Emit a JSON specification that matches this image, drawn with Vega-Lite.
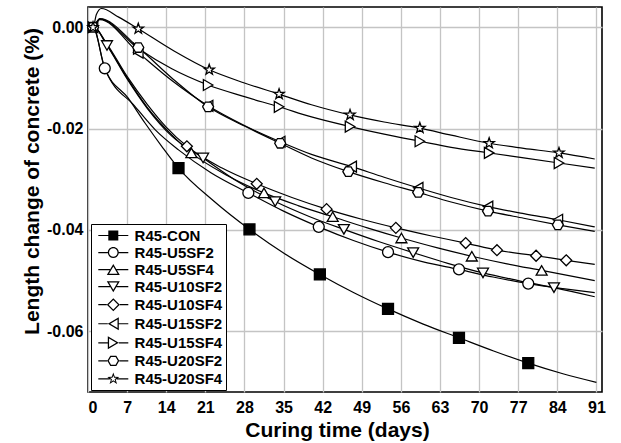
{
  "$schema": "https://vega.github.io/schema/vega-lite/v6.json",
  "width": 514,
  "height": 385,
  "autosize": "none",
  "padding": {"left": 88, "top": 7, "right": 19, "bottom": 51},
  "background": "white",
  "config": {
    "font": "Liberation Sans",
    "view": {"stroke": "black", "strokeWidth": 1.6}
  },
  "datasets": {
    "curves": [
      {"s":"R45-CON","d":0,"v":0},{"s":"R45-CON","d":0.9,"v":0},{"s":"R45-CON","d":3.0,"v":-0.0081},{"s":"R45-CON","d":7.2,"v":-0.0140},{"s":"R45-CON","d":10.2,"v":-0.0189},{"s":"R45-CON","d":13.2,"v":-0.0235},{"s":"R45-CON","d":16.2,"v":-0.0278},{"s":"R45-CON","d":22.5,"v":-0.0343},{"s":"R45-CON","d":28.9,"v":-0.0399},{"s":"R45-CON","d":35.2,"v":-0.0447},{"s":"R45-CON","d":41.5,"v":-0.0488},{"s":"R45-CON","d":47.6,"v":-0.0524},{"s":"R45-CON","d":53.7,"v":-0.0556},{"s":"R45-CON","d":60,"v":-0.0586},{"s":"R45-CON","d":66.4,"v":-0.0613},{"s":"R45-CON","d":72.6,"v":-0.0639},{"s":"R45-CON","d":78.8,"v":-0.0663},{"s":"R45-CON","d":85,"v":-0.0684},{"s":"R45-CON","d":91,"v":-0.0701},
      {"s":"R45-U5SF2","d":0,"v":0},{"s":"R45-U5SF2","d":0.9,"v":0},{"s":"R45-U5SF2","d":3.0,"v":-0.0081},{"s":"R45-U5SF2","d":8.4,"v":-0.0156},{"s":"R45-U5SF2","d":12,"v":-0.0202},{"s":"R45-U5SF2","d":16.2,"v":-0.0242},{"s":"R45-U5SF2","d":22,"v":-0.0287},{"s":"R45-U5SF2","d":28.7,"v":-0.0327},{"s":"R45-U5SF2","d":35,"v":-0.0363},{"s":"R45-U5SF2","d":41.3,"v":-0.0394},{"s":"R45-U5SF2","d":47.5,"v":-0.0421},{"s":"R45-U5SF2","d":53.7,"v":-0.0444},{"s":"R45-U5SF2","d":60,"v":-0.0463},{"s":"R45-U5SF2","d":66.4,"v":-0.0478},{"s":"R45-U5SF2","d":72.5,"v":-0.0493},{"s":"R45-U5SF2","d":78.8,"v":-0.0506},{"s":"R45-U5SF2","d":85,"v":-0.0516},{"s":"R45-U5SF2","d":90.7,"v":-0.0524},
      {"s":"R45-U5SF4","d":0,"v":0},{"s":"R45-U5SF4","d":0.9,"v":0.0002},{"s":"R45-U5SF4","d":3.4,"v":-0.0035},{"s":"R45-U5SF4","d":7,"v":-0.0100},{"s":"R45-U5SF4","d":10.6,"v":-0.0158},{"s":"R45-U5SF4","d":14.5,"v":-0.0207},{"s":"R45-U5SF4","d":18.5,"v":-0.0248},{"s":"R45-U5SF4","d":25,"v":-0.0293},{"s":"R45-U5SF4","d":31.5,"v":-0.0327},{"s":"R45-U5SF4","d":37.6,"v":-0.0352},{"s":"R45-U5SF4","d":43.8,"v":-0.0374},{"s":"R45-U5SF4","d":50,"v":-0.0396},{"s":"R45-U5SF4","d":56.1,"v":-0.0416},{"s":"R45-U5SF4","d":62.4,"v":-0.0435},{"s":"R45-U5SF4","d":68.7,"v":-0.0452},{"s":"R45-U5SF4","d":75,"v":-0.0467},{"s":"R45-U5SF4","d":81.2,"v":-0.0480},{"s":"R45-U5SF4","d":90.7,"v":-0.0500},
      {"s":"R45-U10SF2","d":0,"v":0},{"s":"R45-U10SF2","d":0.9,"v":0.0002},{"s":"R45-U10SF2","d":3.4,"v":-0.0036},{"s":"R45-U10SF2","d":7,"v":-0.0102},{"s":"R45-U10SF2","d":10.6,"v":-0.0160},{"s":"R45-U10SF2","d":15,"v":-0.0215},{"s":"R45-U10SF2","d":20.6,"v":-0.0258},{"s":"R45-U10SF2","d":27,"v":-0.0306},{"s":"R45-U10SF2","d":33.5,"v":-0.0344},{"s":"R45-U10SF2","d":39.7,"v":-0.0374},{"s":"R45-U10SF2","d":45.8,"v":-0.0399},{"s":"R45-U10SF2","d":52,"v":-0.0423},{"s":"R45-U10SF2","d":58.2,"v":-0.0445},{"s":"R45-U10SF2","d":64.4,"v":-0.0466},{"s":"R45-U10SF2","d":70.7,"v":-0.0485},{"s":"R45-U10SF2","d":77,"v":-0.0500},{"s":"R45-U10SF2","d":83.4,"v":-0.0514},{"s":"R45-U10SF2","d":90.7,"v":-0.0532},
      {"s":"R45-U10SF4","d":0,"v":0},{"s":"R45-U10SF4","d":0.9,"v":0.0002},{"s":"R45-U10SF4","d":3.4,"v":-0.0033},{"s":"R45-U10SF4","d":7,"v":-0.0097},{"s":"R45-U10SF4","d":10.6,"v":-0.0152},{"s":"R45-U10SF4","d":14,"v":-0.0197},{"s":"R45-U10SF4","d":17.7,"v":-0.0235},{"s":"R45-U10SF4","d":24,"v":-0.0278},{"s":"R45-U10SF4","d":30.2,"v":-0.0309},{"s":"R45-U10SF4","d":36.5,"v":-0.0336},{"s":"R45-U10SF4","d":42.7,"v":-0.0359},{"s":"R45-U10SF4","d":49,"v":-0.0379},{"s":"R45-U10SF4","d":55.1,"v":-0.0396},{"s":"R45-U10SF4","d":61.5,"v":-0.0412},{"s":"R45-U10SF4","d":67.6,"v":-0.0426},{"s":"R45-U10SF4","d":73.2,"v":-0.0440},{"s":"R45-U10SF4","d":80.2,"v":-0.0451},{"s":"R45-U10SF4","d":85.6,"v":-0.0460},{"s":"R45-U10SF4","d":90.7,"v":-0.0468},
      {"s":"R45-U15SF2","d":0,"v":0},{"s":"R45-U15SF2","d":0.9,"v":0},{"s":"R45-U15SF2","d":2.1,"v":0.0015},{"s":"R45-U15SF2","d":9.0,"v":-0.0050},{"s":"R45-U15SF2","d":15,"v":-0.0105},{"s":"R45-U15SF2","d":21.5,"v":-0.0155},{"s":"R45-U15SF2","d":28,"v":-0.0194},{"s":"R45-U15SF2","d":34.4,"v":-0.0226},{"s":"R45-U15SF2","d":40,"v":-0.0251},{"s":"R45-U15SF2","d":47.2,"v":-0.0275},{"s":"R45-U15SF2","d":53,"v":-0.0296},{"s":"R45-U15SF2","d":59.1,"v":-0.0317},{"s":"R45-U15SF2","d":65,"v":-0.0336},{"s":"R45-U15SF2","d":71.6,"v":-0.0354},{"s":"R45-U15SF2","d":78,"v":-0.0368},{"s":"R45-U15SF2","d":84.1,"v":-0.0380},{"s":"R45-U15SF2","d":90.7,"v":-0.0394},
      {"s":"R45-U15SF4","d":0,"v":0},{"s":"R45-U15SF4","d":0.9,"v":0.0002},{"s":"R45-U15SF4","d":2.1,"v":0.0016},{"s":"R45-U15SF4","d":9.0,"v":-0.0042},{"s":"R45-U15SF4","d":15,"v":-0.0082},{"s":"R45-U15SF4","d":21.5,"v":-0.0114},{"s":"R45-U15SF4","d":28,"v":-0.0137},{"s":"R45-U15SF4","d":34.2,"v":-0.0157},{"s":"R45-U15SF4","d":40,"v":-0.0177},{"s":"R45-U15SF4","d":46.9,"v":-0.0196},{"s":"R45-U15SF4","d":53,"v":-0.0211},{"s":"R45-U15SF4","d":59.4,"v":-0.0225},{"s":"R45-U15SF4","d":65,"v":-0.0237},{"s":"R45-U15SF4","d":71.8,"v":-0.0248},{"s":"R45-U15SF4","d":78,"v":-0.0258},{"s":"R45-U15SF4","d":84.3,"v":-0.0268},{"s":"R45-U15SF4","d":90.7,"v":-0.0278},
      {"s":"R45-U20SF2","d":0,"v":0},{"s":"R45-U20SF2","d":0.9,"v":0},{"s":"R45-U20SF2","d":2.1,"v":0.0017},{"s":"R45-U20SF2","d":9.0,"v":-0.0040},{"s":"R45-U20SF2","d":15,"v":-0.0100},{"s":"R45-U20SF2","d":21.5,"v":-0.0157},{"s":"R45-U20SF2","d":28,"v":-0.0195},{"s":"R45-U20SF2","d":34.4,"v":-0.0229},{"s":"R45-U20SF2","d":40,"v":-0.0258},{"s":"R45-U20SF2","d":46.6,"v":-0.0285},{"s":"R45-U20SF2","d":53,"v":-0.0307},{"s":"R45-U20SF2","d":59.1,"v":-0.0326},{"s":"R45-U20SF2","d":65,"v":-0.0345},{"s":"R45-U20SF2","d":71.6,"v":-0.0363},{"s":"R45-U20SF2","d":78,"v":-0.0377},{"s":"R45-U20SF2","d":84.1,"v":-0.0390},{"s":"R45-U20SF2","d":90.7,"v":-0.0403},
      {"s":"R45-U20SF4","d":0,"v":0},{"s":"R45-U20SF4","d":0.9,"v":0},{"s":"R45-U20SF4","d":1.5,"v":0.0025},{"s":"R45-U20SF4","d":2.4,"v":0.0037},{"s":"R45-U20SF4","d":5.5,"v":0.0020},{"s":"R45-U20SF4","d":9.0,"v":-0.0003},{"s":"R45-U20SF4","d":15.4,"v":-0.0047},{"s":"R45-U20SF4","d":21.7,"v":-0.0084},{"s":"R45-U20SF4","d":28,"v":-0.0110},{"s":"R45-U20SF4","d":34.2,"v":-0.0132},{"s":"R45-U20SF4","d":40,"v":-0.0153},{"s":"R45-U20SF4","d":46.9,"v":-0.0173},{"s":"R45-U20SF4","d":53,"v":-0.0187},{"s":"R45-U20SF4","d":59.4,"v":-0.0199},{"s":"R45-U20SF4","d":65,"v":-0.0213},{"s":"R45-U20SF4","d":71.8,"v":-0.0229},{"s":"R45-U20SF4","d":78,"v":-0.0239},{"s":"R45-U20SF4","d":84.3,"v":-0.0248},{"s":"R45-U20SF4","d":90.7,"v":-0.0260}
    ],
    "markers": [
      {"s":"R45-CON","d":16.2,"v":-0.0278},{"s":"R45-CON","d":28.9,"v":-0.0399},{"s":"R45-CON","d":41.5,"v":-0.0488},{"s":"R45-CON","d":53.7,"v":-0.0556},{"s":"R45-CON","d":66.4,"v":-0.0613},{"s":"R45-CON","d":78.8,"v":-0.0663},
      {"s":"R45-U5SF2","d":3.0,"v":-0.0081},{"s":"R45-U5SF2","d":28.7,"v":-0.0327},{"s":"R45-U5SF2","d":41.3,"v":-0.0394},{"s":"R45-U5SF2","d":53.7,"v":-0.0444},{"s":"R45-U5SF2","d":66.4,"v":-0.0478},{"s":"R45-U5SF2","d":78.8,"v":-0.0506},
      {"s":"R45-U5SF4","d":18.5,"v":-0.0248},{"s":"R45-U5SF4","d":31.5,"v":-0.0327},{"s":"R45-U5SF4","d":43.8,"v":-0.0374},{"s":"R45-U5SF4","d":56.1,"v":-0.0416},{"s":"R45-U5SF4","d":68.7,"v":-0.0452},{"s":"R45-U5SF4","d":81.2,"v":-0.0480},
      {"s":"R45-U10SF2","d":3.4,"v":-0.0036},{"s":"R45-U10SF2","d":20.6,"v":-0.0258},{"s":"R45-U10SF2","d":33.5,"v":-0.0344},{"s":"R45-U10SF2","d":45.8,"v":-0.0399},{"s":"R45-U10SF2","d":58.2,"v":-0.0445},{"s":"R45-U10SF2","d":70.7,"v":-0.0485},{"s":"R45-U10SF2","d":83.4,"v":-0.0514},
      {"s":"R45-U10SF4","d":17.7,"v":-0.0235},{"s":"R45-U10SF4","d":30.2,"v":-0.0309},{"s":"R45-U10SF4","d":42.7,"v":-0.0359},{"s":"R45-U10SF4","d":55.1,"v":-0.0396},{"s":"R45-U10SF4","d":67.6,"v":-0.0426},{"s":"R45-U10SF4","d":73.2,"v":-0.0440},{"s":"R45-U10SF4","d":80.2,"v":-0.0451},{"s":"R45-U10SF4","d":85.6,"v":-0.0460},
      {"s":"R45-U15SF2","d":0.9,"v":0},{"s":"R45-U15SF2","d":9.0,"v":-0.0050},{"s":"R45-U15SF2","d":21.5,"v":-0.0155},{"s":"R45-U15SF2","d":34.4,"v":-0.0226},{"s":"R45-U15SF2","d":47.2,"v":-0.0275},{"s":"R45-U15SF2","d":59.1,"v":-0.0317},{"s":"R45-U15SF2","d":71.6,"v":-0.0354},{"s":"R45-U15SF2","d":84.1,"v":-0.0380},
      {"s":"R45-U15SF4","d":0.9,"v":0},{"s":"R45-U15SF4","d":9.0,"v":-0.0042},{"s":"R45-U15SF4","d":21.5,"v":-0.0114},{"s":"R45-U15SF4","d":34.2,"v":-0.0157},{"s":"R45-U15SF4","d":46.9,"v":-0.0196},{"s":"R45-U15SF4","d":59.4,"v":-0.0225},{"s":"R45-U15SF4","d":71.8,"v":-0.0248},{"s":"R45-U15SF4","d":84.3,"v":-0.0268},
      {"s":"R45-U20SF2","d":0.9,"v":0},{"s":"R45-U20SF2","d":9.0,"v":-0.0040},{"s":"R45-U20SF2","d":21.5,"v":-0.0157},{"s":"R45-U20SF2","d":34.4,"v":-0.0229},{"s":"R45-U20SF2","d":46.6,"v":-0.0285},{"s":"R45-U20SF2","d":59.1,"v":-0.0326},{"s":"R45-U20SF2","d":71.6,"v":-0.0363},{"s":"R45-U20SF2","d":84.1,"v":-0.0390},
      {"s":"R45-U20SF4","d":0.9,"v":0},{"s":"R45-U20SF4","d":9.0,"v":-0.0003},{"s":"R45-U20SF4","d":21.7,"v":-0.0084},{"s":"R45-U20SF4","d":34.2,"v":-0.0132},{"s":"R45-U20SF4","d":46.9,"v":-0.0173},{"s":"R45-U20SF4","d":59.4,"v":-0.0199},{"s":"R45-U20SF4","d":71.8,"v":-0.0229},{"s":"R45-U20SF4","d":84.3,"v":-0.0248}
    ]
  },
  "encoding": {
    "x": {
      "field": "d", "type": "quantitative",
      "scale": {"domain": [0, 92], "nice": false, "zero": false},
      "axis": {
        "values": [0, 7, 14, 21, 28, 35, 42, 49, 56, 63, 70, 77, 84, 91],
        "title": "Curing time (days)",
        "grid": true, "gridColor": "#c4c4c4", "gridWidth": 1.3,
        "ticks": false, "domain": false,
        "labelFont": "Liberation Sans", "labelFontSize": 16, "labelFontWeight": "bold", "labelColor": "black",
        "labelPadding": 7,
        "titleFont": "Liberation Sans", "titleFontSize": 21, "titleFontWeight": "bold", "titleColor": "black",
        "titlePadding": 4, "titleX": 249
      }
    },
    "y": {
      "field": "v", "type": "quantitative",
      "scale": {"domain": [-0.072, 0.004], "nice": false, "zero": false},
      "axis": {
        "values": [0, -0.02, -0.04, -0.06],
        "labelExpr": "datum.value < 0 ? '-' + format(-datum.value, '.2f') : format(datum.value, '.2f')",
        "title": "Length change of concrete (%)",
        "grid": true, "gridColor": "#c4c4c4", "gridWidth": 1.3,
        "ticks": false, "domain": false,
        "labelFont": "Liberation Sans", "labelFontSize": 16, "labelFontWeight": "bold", "labelColor": "black",
        "labelPadding": 5,
        "titleFont": "Liberation Sans", "titleFontSize": 21, "titleFontWeight": "bold", "titleColor": "black",
        "titlePadding": 4, "titleY": 174
      }
    }
  },
  "layer": [
    {"data": {"name": "curves"}, "transform": [{"filter": "datum.s === 'R45-CON'"}], "mark": {"type": "line", "stroke": "black", "strokeWidth": 1.2, "interpolate": "monotone"}, "encoding": {}},
    {"data": {"name": "curves"}, "transform": [{"filter": "datum.s === 'R45-U5SF2'"}], "mark": {"type": "line", "stroke": "black", "strokeWidth": 1.2, "interpolate": "monotone"}, "encoding": {}},
    {"data": {"name": "curves"}, "transform": [{"filter": "datum.s === 'R45-U5SF4'"}], "mark": {"type": "line", "stroke": "black", "strokeWidth": 1.2, "interpolate": "monotone"}, "encoding": {}},
    {"data": {"name": "curves"}, "transform": [{"filter": "datum.s === 'R45-U10SF2'"}], "mark": {"type": "line", "stroke": "black", "strokeWidth": 1.2, "interpolate": "monotone"}, "encoding": {}},
    {"data": {"name": "curves"}, "transform": [{"filter": "datum.s === 'R45-U10SF4'"}], "mark": {"type": "line", "stroke": "black", "strokeWidth": 1.2, "interpolate": "monotone"}, "encoding": {}},
    {"data": {"name": "curves"}, "transform": [{"filter": "datum.s === 'R45-U15SF2'"}], "mark": {"type": "line", "stroke": "black", "strokeWidth": 1.2, "interpolate": "monotone"}, "encoding": {}},
    {"data": {"name": "curves"}, "transform": [{"filter": "datum.s === 'R45-U15SF4'"}], "mark": {"type": "line", "stroke": "black", "strokeWidth": 1.2, "interpolate": "monotone"}, "encoding": {}},
    {"data": {"name": "curves"}, "transform": [{"filter": "datum.s === 'R45-U20SF2'"}], "mark": {"type": "line", "stroke": "black", "strokeWidth": 1.2, "interpolate": "monotone"}, "encoding": {}},
    {"data": {"name": "curves"}, "transform": [{"filter": "datum.s === 'R45-U20SF4'"}], "mark": {"type": "line", "stroke": "black", "strokeWidth": 1.2, "interpolate": "monotone"}, "encoding": {}},
    {
      "data": {"name": "markers"},
      "mark": {"type": "point", "filled": true, "stroke": "black", "strokeWidth": 1.3, "size": 120, "opacity": 1},
      "encoding": {
        "fill": {
          "field": "s", "type": "nominal",
          "scale": {
            "domain": ["R45-CON","R45-U5SF2","R45-U5SF4","R45-U10SF2","R45-U10SF4","R45-U15SF2","R45-U15SF4","R45-U20SF2","R45-U20SF4"],
            "range": ["black","white","white","white","white","white","white","white","white"]
          },
          "legend": null
        },
        "shape": {
          "field": "s", "type": "nominal",
          "scale": {
            "domain": ["R45-CON","R45-U5SF2","R45-U5SF4","R45-U10SF2","R45-U10SF4","R45-U15SF2","R45-U15SF4","R45-U20SF2","R45-U20SF4"],
            "range": ["square","circle","triangle-up","triangle-down","diamond","triangle-left","triangle-right","M-1,0L-0.5,-0.866L0.5,-0.866L1,0L0.5,0.866L-0.5,0.866Z","M0,-1L0.235,-0.324L0.951,-0.309L0.38,0.124L0.588,0.809L0,0.4L-0.588,0.809L-0.38,0.124L-0.951,-0.309L-0.235,-0.324Z"]
          },
          "legend": null
        }
      }
    },
    {
      "data": {"name": "markers"},
      "transform": [{"filter": "false"}],
      "mark": {"type": "point", "filled": true, "fill": "black", "opacity": 1},
      "encoding": {
        "shape": {
          "field": "s", "type": "nominal",
          "scale": {
            "domain": ["R45-CON","R45-U5SF2","R45-U5SF4","R45-U10SF2","R45-U10SF4","R45-U15SF2","R45-U15SF4","R45-U20SF2","R45-U20SF4"],
            "range": [
              "M-2,-0.08H-0.667V0.08H-2ZM0.667,-0.08H2V0.08H0.667ZM-0.667,-0.667H0.667V0.667H-0.667Z",
              "M-2,-0.08H-0.733V0.08H-2ZM0.733,-0.08H2V0.08H0.733ZM-0.733,0A0.733,0.733,0,1,1,0.733,0A0.733,0.733,0,1,1,-0.733,0ZM-0.563,0A0.563,0.563,0,1,0,0.563,0A0.563,0.563,0,1,0,-0.563,0Z",
              "M-2,-0.08H-0.433V0.08H-2ZM0.433,-0.08H2V0.08H0.433ZM0,-0.733L0.867,0.733L-0.867,0.733ZM0,-0.399L-0.569,0.563L0.569,0.563Z",
              "M-2,-0.08H-0.433V0.08H-2ZM0.433,-0.08H2V0.08H0.433ZM0,0.733L-0.867,-0.733L0.867,-0.733ZM0,0.399L0.569,-0.563L-0.569,-0.563Z",
              "M-2,-0.08H-0.867V0.08H-2ZM0.867,-0.08H2V0.08H0.867ZM0,-0.867L0.867,0L0,0.867L-0.867,0ZM0,-0.627L-0.627,0L0,0.627L0.627,0Z",
              "M-2,-0.08H-0.733V0.08H-2ZM0.733,-0.08H2V0.08H0.733ZM-0.733,0L0.733,-0.867L0.733,0.867ZM-0.399,0L0.563,0.569L0.563,-0.569Z",
              "M-2,-0.08H-0.733V0.08H-2ZM0.733,-0.08H2V0.08H0.733ZM0.733,0L-0.733,0.867L-0.733,-0.867ZM0.399,0L-0.563,-0.569L-0.563,0.569Z",
              "M-2,-0.08H-0.8V0.08H-2ZM0.8,-0.08H2V0.08H0.8ZM-0.8,0L-0.4,-0.693L0.4,-0.693L0.8,0L0.4,0.693L-0.4,0.693ZM-0.604,0L-0.302,0.523L0.302,0.523L0.604,0L0.302,-0.523L-0.302,-0.523Z",
              "M-2,-0.08H-0.46V0.08H-2ZM0.46,-0.08H2V0.08H0.46ZM0,-0.84L0.2,-0.275L0.799,-0.26L0.323,0.105L0.494,0.68L0,0.34L-0.494,0.68L-0.323,0.105L-0.799,-0.26L-0.2,-0.275ZM0,-0.462L-0.11,-0.151L-0.439,-0.143L-0.178,0.058L-0.272,0.374L0,0.187L0.272,0.374L0.178,0.058L0.439,-0.143L0.11,-0.151Z"
            ]
          },
          "legend": {
            "title": null,
            "orient": "bottom-left",
            "offset": 2.5,
            "padding": 3,
            "strokeColor": "black",
            "fillColor": "white",
            "labelFont": "Liberation Sans",
            "labelFontSize": 15,
            "labelFontWeight": "bold",
            "labelColor": "black",
            "labelOffset": 12.8,
            "symbolOffset": 10.8,
            "rowPadding": 0.05,
            "symbolSize": 225,
            "symbolStrokeWidth": 1.3,
            "symbolStrokeColor": "transparent",
            "symbolFillColor": "black"
          }
        }
      }
    }
  ],
  "resolve": {"scale": {"shape": "independent"}, "legend": {"shape": "independent"}}
}
